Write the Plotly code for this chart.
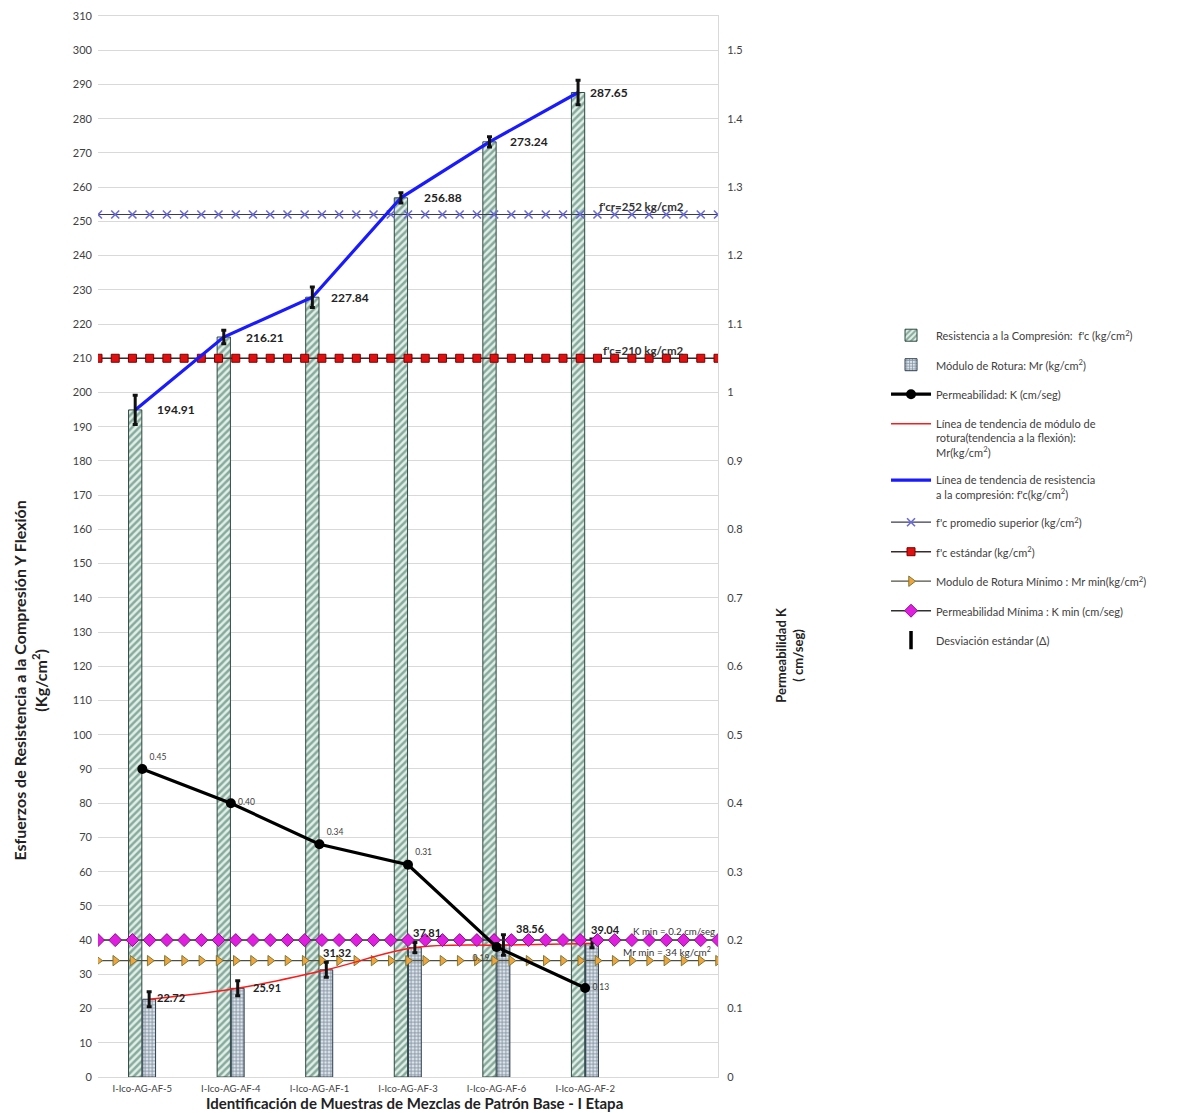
import numpy as np
import plotly.graph_objects as go

# ---------------- data ----------------
muestras = ["I-Ico-AG-AF-5", "I-Ico-AG-AF-4", "I-Ico-AG-AF-1",
            "I-Ico-AG-AF-3", "I-Ico-AG-AF-6", "I-Ico-AG-AF-2"]
fc = [194.91, 216.21, 227.84, 256.88, 273.24, 287.65]
fc_err = [4.3, 2.0, 3.0, 1.5, 1.5, 3.6]
mr = [22.72, 25.91, 31.32, 37.81, 38.56, 39.04]
mr_err = [2.2, 2.2, 2.2, 1.5, 3.0, 1.3]
perm = [0.45, 0.40, 0.34, 0.31, 0.19, 0.13]
perm_labels = ["0.45", "0.40", "0.34", "0.31", "0.19", "0.13"]
fcr_prom = 252   # f'cr
fc_std = 210     # f'c
mr_min = 34      # Mr min
k_min = 0.2      # K min (right axis)

left_ticks = list(range(0, 311, 10))
right_ticks = [round(v * 0.1, 1) for v in range(0, 16)]

# ---------------- layout constants ----------------
FONT = "Lato"
GRID = "#d9d9d9"
TXT = "#404040"
idx = np.arange(len(muestras))
FC_OFF, FC_W = -0.155, 0.15
MR_OFF, MR_W = 0.005, 0.145
fc_x = idx + FC_OFF + FC_W / 2
mr_x = idx + MR_OFF + MR_W / 2
XR = [-0.5, 6.5]
line_x = np.linspace(XR[0], XR[1], 37)

fig = go.Figure()

# bars
fig.add_trace(go.Bar(
    x=idx, y=fc, offset=FC_OFF, width=FC_W,
    name="Resistencia a la Compresión:  f'c (kg/cm<sup>2</sup>)",
    marker=dict(color="#e2efe8", line=dict(color="#2e4a40", width=1),
                pattern=dict(shape="/", fgcolor="#2a6652", bgcolor="#e2efe8",
                             size=5, solidity=0.5)),
    legendrank=1, legendgroup="g1"))
fig.add_trace(go.Bar(
    x=idx, y=mr, offset=MR_OFF, width=MR_W,
    name="Módulo de Rotura: Mr (kg/cm<sup>2</sup>)",
    marker=dict(color="#dde6ee", line=dict(color="#2e3e4e", width=1),
                pattern=dict(shape="+", fgcolor="#2c3e52", bgcolor="#dde6ee",
                             size=3.5, solidity=0.45)),
    legendrank=2, legendgroup="g2"))

# reference horizontal lines
fig.add_trace(go.Scatter(
    x=line_x, y=[fcr_prom] * len(line_x), mode="lines+markers",
    name="f'c promedio superior (kg/cm<sup>2</sup>)",
    line=dict(color="#3a3a5a", width=1.2),
    marker=dict(symbol="x-thin-open", size=8, color="#6b6bd6",
                line=dict(color="#6b6bd6", width=1.6)),
    legendrank=6, legendgroup="g6"))
fig.add_trace(go.Scatter(
    x=line_x, y=[fc_std] * len(line_x), mode="lines+markers",
    name="f'c estándar (kg/cm<sup>2</sup>)",
    line=dict(color="#3a2a2a", width=1.5),
    marker=dict(symbol="square", size=8, color="#e01010",
                line=dict(color="#7a0000", width=1)),
    legendrank=7, legendgroup="g7"))
fig.add_trace(go.Scatter(
    x=line_x, y=[mr_min] * len(line_x), mode="lines+markers",
    name="Modulo de Rotura Mínimo : Mr min(kg/cm<sup>2</sup>)",
    line=dict(color="#505040", width=1.2),
    marker=dict(symbol="triangle-right", size=9, color="#f2a33a",
                line=dict(color="#7a7a3a", width=1)),
    legendrank=8, legendgroup="g8"))
fig.add_trace(go.Scatter(
    x=line_x, y=[k_min] * len(line_x), mode="lines+markers", yaxis="y2",
    name="Permeabilidad Mínima : K min (cm/seg)",
    line=dict(color="#303030", width=1.5),
    marker=dict(symbol="diamond", size=10, color="#e01ee0",
                line=dict(color="#8a108a", width=1)),
    legendrank=9, legendgroup="g9"))

# trend lines
fig.add_trace(go.Scatter(
    x=mr_x, y=mr, mode="lines", line=dict(color="#ff1a1a", width=1.5, shape="spline"),
    name="Línea de tendencia de módulo de<br>rotura(tendencia a la flexión):<br>Mr(kg/cm<sup>2</sup>)",
    legendrank=4, legendgroup="g4"))
fig.add_trace(go.Scatter(
    x=fc_x, y=fc, mode="lines", line=dict(color="#1a1aff", width=3.2),
    name="Línea de tendencia de resistencia<br>a la compresión: f'c(kg/cm<sup>2</sup>)",
    legendrank=5, legendgroup="g5"))

# error bars (standard deviation)
fig.add_trace(go.Scatter(
    x=fc_x, y=fc, mode="markers", marker=dict(size=1, color="rgba(0,0,0,0)"),
    error_y=dict(type="data", array=fc_err, color="#111111", thickness=3, width=2.5),
    showlegend=False, hoverinfo="skip"))
fig.add_trace(go.Scatter(
    x=mr_x, y=mr, mode="markers", marker=dict(size=1, color="rgba(0,0,0,0)"),
    error_y=dict(type="data", array=mr_err, color="#111111", thickness=3, width=2.5),
    showlegend=False, hoverinfo="skip"))

# permeability
fig.add_trace(go.Scatter(
    x=idx, y=perm, mode="lines+markers+text", yaxis="y2",
    name="Permeabilidad: K (cm/seg)",
    line=dict(color="#000000", width=3.2),
    marker=dict(symbol="circle", size=10, color="#000000"),
    text=perm_labels,
    textposition=["top right", "middle right", "top right", "top right",
                  "bottom left", "middle right"],
    textfont=dict(size=8.5, color=TXT, family=FONT),
    legendrank=3, legendgroup="g3"))

# legend-only item for std deviation
fig.add_trace(go.Scatter(
    x=[None], y=[None], mode="markers",
    name="Desviación estándar (Δ)",
    marker=dict(symbol="line-ns", size=13, color="#000",
                line=dict(color="#000", width=3.5)),
    legendrank=10, legendgroup="g10"))

# ---------------- annotations ----------------
ann = []
fc_shift = [13, 13, 10, 14, 11, 3]
for i, v in enumerate(fc):
    ann.append(dict(x=idx[i], y=v, xref="x", yref="y", text=f"<b>{v:.2f}</b>",
                    showarrow=False, xanchor="left", xshift=fc_shift[i],
                    font=dict(size=12, color="#222", family=FONT)))
mr_shift = [(13, 2), (20, 1), (2, 17), (3, 15), (17, 17), (4, 14)]
for i, v in enumerate(mr):
    dx, dy = mr_shift[i]
    ann.append(dict(x=idx[i], y=v, xref="x", yref="y", text=f"<b>{v:.2f}</b>",
                    showarrow=False, xanchor="left", xshift=dx, yshift=dy,
                    font=dict(size=11, color="#222", family=FONT)))
ann += [
    dict(x=XR[1], y=fcr_prom, xref="x", yref="y", text="<b>f'cr=252 kg/cm2</b>",
         showarrow=False, xanchor="right", xshift=-32, yshift=8,
         font=dict(size=11.5, color="#333", family=FONT)),
    dict(x=XR[1], y=fc_std, xref="x", yref="y", text="<b>f'c=210 kg/cm2</b>",
         showarrow=False, xanchor="right", xshift=-32, yshift=8,
         font=dict(size=11.5, color="#333", family=FONT)),
    dict(x=XR[1], y=k_min, xref="x", yref="y2", text="K min = 0.2 cm/seg",
         showarrow=False, xanchor="right", xshift=-1, yshift=9,
         font=dict(size=9.7, color="#333", family=FONT)),
    dict(x=XR[1], y=mr_min, xref="x", yref="y", text="Mr min = 34 kg/cm<sup>2</sup>",
         showarrow=False, xanchor="right", xshift=-5, yshift=9,
         font=dict(size=10, color="#333", family=FONT)),
    dict(x=-0.1445, y=0.374, xref="paper", yref="paper", textangle=-90,
         text="<b>Esfuerzos de Resistencia a la Compresión Y Flexión<br>(Kg/cm<sup>2</sup>)</b>",
         showarrow=False, font=dict(size=16, color="#222", family=FONT)),
    dict(x=1.146, y=0.398, xref="paper", yref="paper", textangle=-90,
         text="<b>Permeabilidad K<br>( cm/seg)</b>",
         showarrow=False, font=dict(size=13, color="#222", family=FONT)),
    dict(x=0.51, y=-0.0175, xref="paper", yref="paper", yanchor="top", yshift=4,
         text="<b>Identificación de Muestras de Mezclas de Patrón Base - I Etapa</b>",
         showarrow=False, font=dict(size=15, color="#222", family=FONT)),
]

# page body has an 8px margin: offset margins to compensate
fig.update_layout(
    width=1178, height=1105,
    margin=dict(l=90, r=468, t=8, b=36, autoexpand=False),
    paper_bgcolor="white", plot_bgcolor="white",
    font=dict(family=FONT, size=11, color=TXT),
    barmode="overlay",
    showlegend=True,
    legend=dict(x=1.271, y=0.712, xanchor="left", yanchor="top",
                font=dict(size=11, color=TXT, family=FONT),
                traceorder="grouped", valign="top",
                bgcolor="rgba(0,0,0,0)", itemwidth=40, tracegroupgap=10.5),
    xaxis=dict(range=XR, tickmode="array", tickvals=list(idx), ticktext=muestras,
               showgrid=False, zeroline=False, showline=True, linecolor=GRID,
               mirror=True, ticks="", ticklabelstandoff=3, automargin=False,
               tickfont=dict(size=9.5, color=TXT)),
    yaxis=dict(range=[0, 310], tickmode="array", tickvals=left_ticks,
               showgrid=True, gridcolor=GRID, zeroline=False, showline=False,
               ticks="", ticklabelstandoff=5, automargin=False,
               tickfont=dict(size=11, color=TXT)),
    yaxis2=dict(range=[0, 1.55], overlaying="y", side="right", tickmode="array",
                tickvals=right_ticks, showgrid=False, zeroline=False,
                showline=True, linecolor=GRID, ticklabelstandoff=6, automargin=False,
                ticks="", tickfont=dict(size=11, color=TXT)),
    annotations=ann,
)

fig.write_html("out.html")
